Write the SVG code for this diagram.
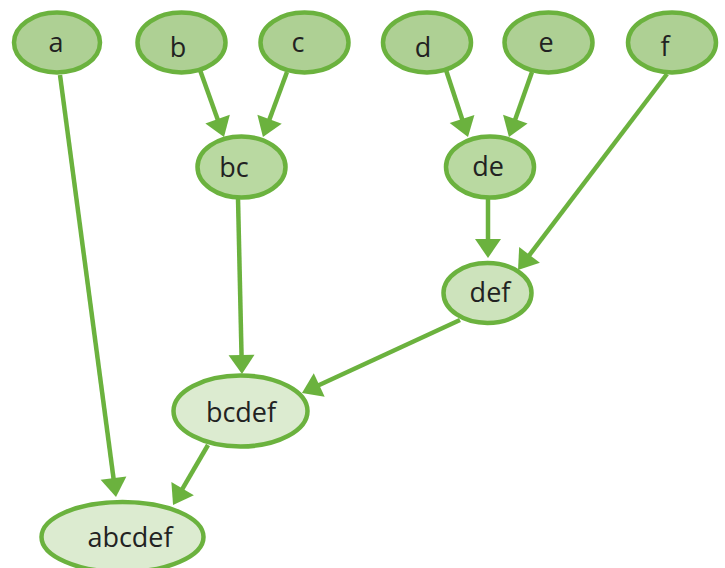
<svg xmlns="http://www.w3.org/2000/svg" width="725" height="568" viewBox="0 0 725 568">
<style>
.n ellipse{stroke:#6bb23e;stroke-width:4.5}
.n text{font-family:"Open Sans","Noto Sans","Liberation Sans",sans-serif;font-size:27px;fill:#222;text-anchor:middle}
.l1{fill:#aed094}
.l2{fill:#b9d9a1}
.l3{fill:#cde3bc}
.l4{fill:#dcebd0}
#edges line{stroke:#6bb23e;stroke-width:4.5;marker-end:url(#arr)}
</style>
<defs>
<marker id="arr" markerUnits="userSpaceOnUse" viewBox="-2 -15 24 30" markerWidth="24" markerHeight="30" refX="3" refY="0" orient="auto" overflow="visible">
<path d="M0,-13 L19,0 L0,13 Z" fill="#6bb23e"/>
</marker>
</defs>
<rect width="725" height="568" fill="#fff"/>
<g id="edges">
<line x1="60" y1="75" x2="113.9" y2="481.1"/>
<line x1="200" y1="70" x2="218.6" y2="121.9"/>
<line x1="287" y1="72" x2="268.5" y2="122"/>
<line x1="446" y1="70" x2="463" y2="121.8"/>
<line x1="532" y1="72" x2="514.3" y2="121.9"/>
<line x1="667" y1="74" x2="527.7" y2="257.3"/>
<line x1="488" y1="198" x2="488" y2="242"/>
<line x1="238" y1="198" x2="241.6" y2="358"/>
<line x1="460" y1="320" x2="316.5" y2="386.3"/>
<line x1="208" y1="445" x2="181.1" y2="491.2"/>
</g>
<g id="a" class="n"><ellipse class="l1" cx="57" cy="42.5" rx="43" ry="30"/><text x="56" y="52">a</text></g>
<g id="b" class="n"><ellipse class="l1" cx="181.5" cy="42.5" rx="44" ry="30"/><text x="178" y="57">b</text></g>
<g id="c" class="n"><ellipse class="l1" cx="304.5" cy="42.5" rx="44" ry="30"/><text x="298" y="52">c</text></g>
<g id="d" class="n"><ellipse class="l1" cx="427" cy="42.5" rx="44" ry="30"/><text x="423" y="57">d</text></g>
<g id="e" class="n"><ellipse class="l1" cx="548.5" cy="42.5" rx="44" ry="30"/><text x="546" y="52">e</text></g>
<g id="f" class="n"><ellipse class="l1" cx="672" cy="42.5" rx="44" ry="30"/><text x="665" y="56">f</text></g>
<g id="bc" class="n"><ellipse class="l2" cx="241.5" cy="167" rx="44" ry="30.5"/><text x="234" y="177">bc</text></g>
<g id="de" class="n"><ellipse class="l2" cx="490" cy="167" rx="44" ry="30.5"/><text x="488" y="176">de</text></g>
<g id="def" class="n"><ellipse class="l3" cx="487.5" cy="293" rx="44" ry="30"/><text x="490" y="302">def</text></g>
<g id="bcdef" class="n"><ellipse class="l4" cx="240.5" cy="411" rx="67" ry="35.5"/><text x="241" y="422">bcdef</text></g>
<g id="abcdef" class="n"><ellipse class="l4" cx="122.5" cy="537" rx="81" ry="35"/><text x="130" y="547">abcdef</text></g>
</svg>
